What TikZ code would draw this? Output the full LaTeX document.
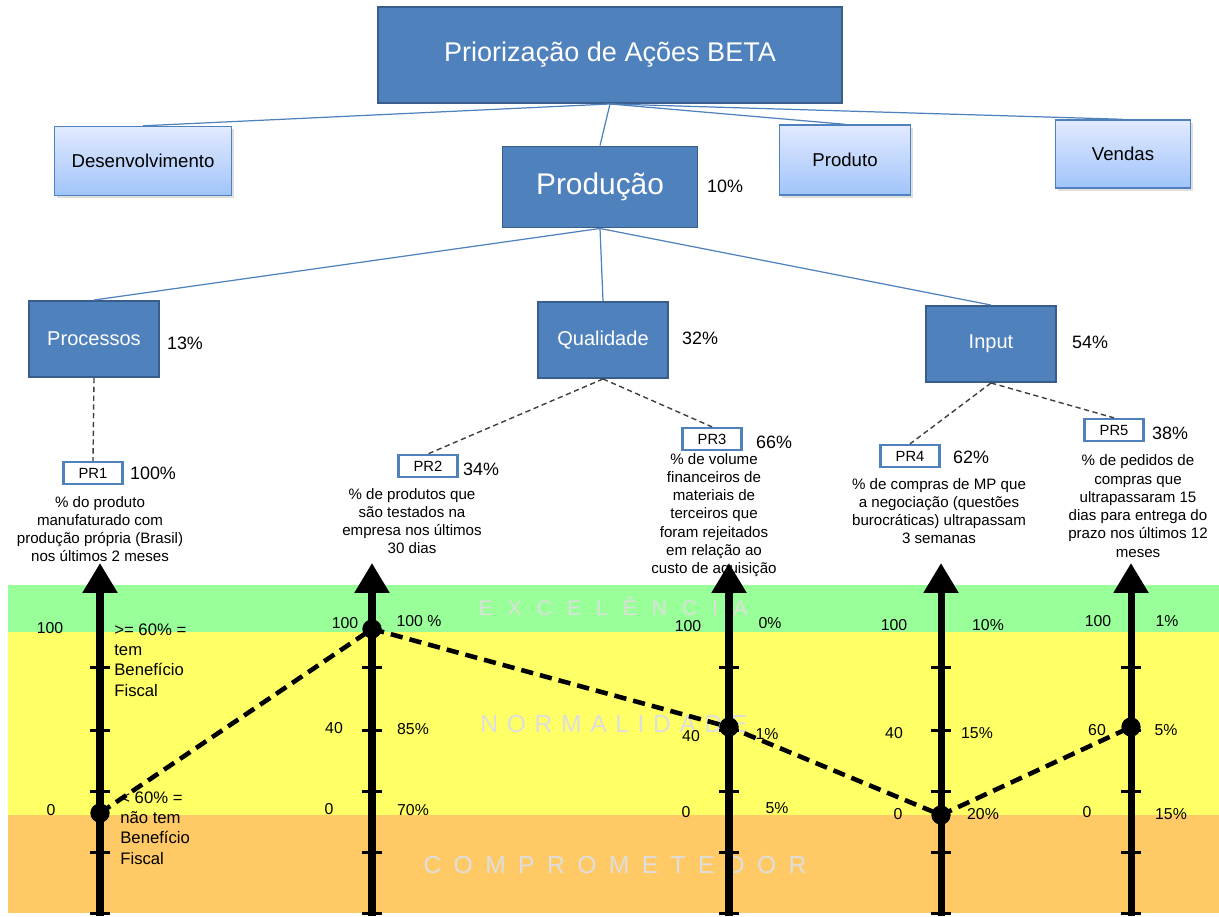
\documentclass[tikz,border=0pt]{standalone}
\usepackage{fontspec}
\setmainfont{Liberation Sans}
\usepackage{tikz}
\usetikzlibrary{arrows.meta,shadows}

\definecolor{boxblue}{RGB}{79,129,189}
\definecolor{boxedge}{RGB}{56,93,138}
\definecolor{areatop}{RGB}{226,234,255}
\definecolor{areabot}{RGB}{160,196,250}
\definecolor{bandgreen}{RGB}{153,255,153}
\definecolor{bandyellow}{RGB}{255,255,102}
\definecolor{bandorange}{RGB}{255,201,102}
\definecolor{bandtext}{RGB}{222,222,222}
\definecolor{linkgrey}{RGB}{64,64,64}

\tikzset{
  mainbox/.style={draw=boxedge, fill=boxblue, line width=1.1pt, text=white, inner sep=0pt},
  areabox/.style={draw=boxblue, line width=0.8pt, top color=areatop, bottom color=areabot,
    drop shadow={opacity=0.25,shadow xshift=1.5pt,shadow yshift=-1.5pt},
    font=\fontsize{10.6}{12.7}\selectfont, inner sep=0pt},
  subbox/.style={mainbox, minimum width=2.6cm, minimum height=1.52cm, font=\fontsize{11.4}{13.7}\selectfont},
  prbox/.style={draw=boxblue, line width=1.3pt, fill=white, minimum width=1.18cm, minimum height=0.44cm,
    inner sep=0pt, font=\fontsize{8.4}{10}\selectfont},
  pct/.style={inner sep=0pt, font=\fontsize{10.2}{12}\selectfont},
  desc/.style={inner sep=0pt, align=center, font=\fontsize{8.6}{10.4}\selectfont},
  note/.style={inner sep=0pt, align=left, anchor=west, font=\fontsize{9.5}{11.6}\selectfont},
  num/.style={inner sep=0pt, font=\fontsize{9}{11}\selectfont},
  bandlabel/.style={inner sep=0pt, text=bandtext},
  link/.style={draw=boxblue, line width=0.7pt},
  sublink/.style={draw=linkgrey, line width=0.8pt, dash pattern=on 3pt off 2pt},
  axis/.style={line width=4pt, -{Triangle[width=19pt,length=17pt]}},
  tick/.style={line width=1.7pt},
  trend/.style={line width=2.6pt, dash pattern=on 7pt off 4pt},
  dot/.style={circle, fill=black, inner sep=0pt, minimum size=11pt}
}

\begin{document}
\begin{tikzpicture}[x=0.02cm,y=-0.02cm]
\useasboundingbox (0,0) rectangle (1219,916);

% faixas
\fill[bandgreen] (8,585) rectangle (1219,632);
\fill[bandyellow] (8,632) rectangle (1219,815);
\fill[bandorange] (8,815) rectangle (1219,913);
\node[bandlabel,font=\fontsize{12}{14}\selectfont] (exc) at (613,606) {\makebox[153pt][s]{E X C E L Ê N C I A}};
\node[bandlabel,font=\fontsize{14}{16}\selectfont] (nor) at (614,724) {\makebox[152pt][s]{N O R M A L I D A D E}};
\node[bandlabel,font=\fontsize{14}{16}\selectfont] (comp) at (615,865) {\makebox[218pt][s]{C O M P R O M E T E D O R}};

% arvore
\node[mainbox,minimum width=9.28cm,minimum height=1.92cm,font=\fontsize{15.4}{18}\selectfont] (beta) at (610,55) {Priorização de Ações BETA};
\node[areabox,minimum width=3.54cm,minimum height=1.38cm] (desenv) at (143,161) {Desenvolvimento};
\node[areabox,minimum width=2.62cm,minimum height=1.4cm] (produto) at (845,160) {Produto};
\node[areabox,minimum width=2.7cm,minimum height=1.36cm] (vendas) at (1123,154) {Vendas};
\node[mainbox,minimum width=3.9cm,minimum height=1.62cm,font=\fontsize{17}{20}\selectfont] (producao) at (600,187) {Produção};
\node[pct] (pproducao) at (725,186) {10\%};

\node[subbox] (proc) at (94,339) {Processos};
\node[subbox] (qual) at (603,340) {Qualidade};
\node[subbox] (input) at (991,344) {Input};
\node[pct] (pproc) at (185,343) {13\%};
\node[pct] (pqual) at (700,338) {32\%};
\node[pct] (pinput) at (1090,342) {54\%};

\draw[link] (beta.south) -- (desenv.north);
\draw[link] (beta.south) -- (producao.north);
\draw[link] (beta.south) -- (produto.north);
\draw[link] (beta.south) -- (vendas.north);
\draw[link] (producao.south) -- (proc.north);
\draw[link] (producao.south) -- (qual.north);
\draw[link] (producao.south) -- (input.north);

% indicadores
\node[prbox] (pr1) at (93,473) {PR1};
\node[prbox] (pr2) at (428,466) {PR2};
\node[prbox] (pr3) at (712,439) {PR3};
\node[prbox] (pr4) at (910,456) {PR4};
\node[prbox] (pr5) at (1114,430) {PR5};
\node[pct] (ppr1) at (153,473) {100\%};
\node[pct] (ppr2) at (481,469) {34\%};
\node[pct] (ppr3) at (774,442) {66\%};
\node[pct] (ppr4) at (971,457) {62\%};
\node[pct] (ppr5) at (1170,433) {38\%};

\draw[sublink] (proc.south) -- (pr1.north);
\draw[sublink] (qual.south) -- (pr2.north);
\draw[sublink] (qual.south) -- (pr3.north);
\draw[sublink] (input.south) -- (pr4.north);
\draw[sublink] (input.south) -- (pr5.north);

\node[desc] (dpr1) at (100,529) {\% do produto\\manufaturado com\\produção própria (Brasil)\\nos últimos 2 meses};
\node[desc] (dpr2) at (412,521) {\% de produtos que\\são testados na\\empresa nos últimos\\30 dias};
\node[desc] (dpr3) at (714,515) {\% de volume\\financeiros de\\materiais de\\terceiros que\\foram rejeitados\\em relação ao\\custo de aquisição};
\node[desc] (dpr4) at (939,511) {\% de compras de MP que\\a negociação (questões\\burocráticas) ultrapassam\\3 semanas};
\node[desc] (dpr5) at (1138,506) {\% de pedidos de\\compras que\\ultrapassaram 15\\dias para entrega do\\prazo nos últimos 12\\meses};

% eixos
\foreach \ax/\xx in {1/100,2/372,3/729,4/941,5/1131}{
  \coordinate (base\ax) at (\xx,916);
  \coordinate (tip\ax) at (\xx,563);
  \draw[axis] (base\ax) -- (tip\ax);
  \foreach \yy in {667,730,791,852,913}
    \draw[tick] (\xx-10,\yy) -- (\xx+10,\yy);
}

\coordinate (v1) at (100,813);
\coordinate (v2) at (372,629);
\coordinate (v3) at (729,727);
\coordinate (v4) at (941,815);
\coordinate (v5) at (1131,727);
\draw[trend] (v1) -- (v2) -- (v3) -- (v4) -- (v5);
\foreach \i in {1,...,5}
  \node[dot] (dot\i) at (v\i) {};

\node[num] (a1max) at (50,628) {100};
\node[num] (a1min) at (51,810) {0};
\node[note] (n1top) at (114,660) {>= 60\% =\\tem\\Benefício\\Fiscal};
\node[note] (n1bot) at (120,828) {< 60\% =\\não tem\\Benefício\\Fiscal};

\node[num] (a2max) at (345,623) {100};
\node[num] (a2mid) at (334,728) {40};
\node[num] (a2min) at (329,809) {0};
\node[num] (b2max) at (419,621) {100 \%};
\node[num] (b2mid) at (413,729) {85\%};
\node[num] (b2min) at (413,810) {70\%};

\node[num] (a3max) at (688,626) {100};
\node[num] (a3mid) at (691,736) {40};
\node[num] (a3min) at (686,812) {0};
\node[num] (b3max) at (770,623) {0\%};
\node[num] (b3mid) at (767,734) {1\%};
\node[num] (b3min) at (777,808) {5\%};

\node[num] (a4max) at (894,625) {100};
\node[num] (a4mid) at (894,733) {40};
\node[num] (a4min) at (898,814) {0};
\node[num] (b4max) at (988,625) {10\%};
\node[num] (b4mid) at (977,733) {15\%};
\node[num] (b4min) at (983,814) {20\%};

\node[num] (a5max) at (1098,621) {100};
\node[num] (a5mid) at (1097,730) {60};
\node[num] (a5min) at (1087,812) {0};
\node[num] (b5max) at (1167,621) {1\%};
\node[num] (b5mid) at (1166,730) {5\%};
\node[num] (b5min) at (1171,814) {15\%};
\end{tikzpicture}
\end{document}
